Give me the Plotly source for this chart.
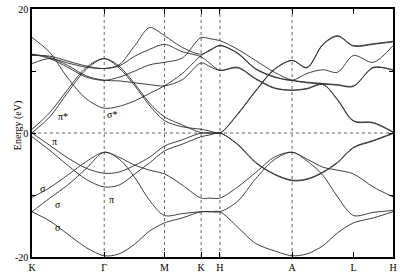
import plotly.graph_objects as go

# k-path positions of the high-symmetry points and labels
k_sym = [0, 73, 134, 171, 190, 263, 325, 365]
k_labels = ["K", "Γ", "M", "K", "H", "A", "L", "H"]
dotted_k = [73, 134, 171, 190, 263]

# common k grid on which band energies were read (eV)
k_grid = [0, 18, 36, 55, 73, 88, 104, 119, 134, 152, 171, 180, 190,
          208, 226, 245, 263, 278, 294, 309, 325, 345, 365]

# valence bands
v_pi1 = [0.0, -2.0, -4.0, -5.7, -6.5, -6.3, -5.2, -3.9, -2.1, -1.1, 0.0, 0.0, 0.0,
         -1.8, -4.7, -6.6, -7.6, -7.4, -6.3, -4.7, -2.3, -1.2, 0.0]
v_pi2 = [-0.6, -2.8, -5.2, -7.5, -8.7, -8.4, -6.6, -4.8, -2.9, -1.8, -0.6, -0.3, 0.0,
         -1.9, -4.8, -6.7, -7.7, -7.5, -6.4, -4.8, -2.4, -1.3, -0.1]
v_s1 = [-10.4, -8.8, -6.8, -4.6, -3.1, -3.9, -5.2, -6.0, -6.6, -8.4, -10.5, -10.5, -10.5,
        -8.7, -6.4, -3.9, -3.1, -4.2, -5.5, -6.0, -6.6, -8.7, -10.3]
v_s2 = [-12.7, -10.5, -8.4, -5.7, -3.1, -4.2, -7.2, -10.9, -13.3, -13.0, -12.7, -12.7, -12.7,
        -11.0, -7.4, -4.3, -3.1, -4.5, -6.8, -10.3, -13.3, -12.8, -12.5]
v_s3 = [-12.7, -14.2, -16.3, -18.5, -19.8, -19.5, -17.9, -15.8, -14.5, -13.7, -12.7, -12.7, -12.7,
        -15.2, -17.8, -19.0, -19.8, -19.5, -18.2, -16.1, -14.5, -13.7, -12.7]

# conduction bands
c1 = [0.05, 2.6, 6.5, 10.3, 12.0, 10.8, 7.9, 4.8, 2.6, 1.3, 0.05, 0.0, 0.0,
      3.0, 6.7, 10.2, 11.7, 10.5, 14.3, 15.7, 14.1, 14.4, 14.8]
c2 = [0.6, 3.3, 7.0, 10.6, 12.0, 10.5, 7.6, 4.4, 2.0, 1.0, 0.6, 0.3, 0.0,
      3.1, 6.8, 10.3, 11.7, 10.6, 14.2, 15.6, 14.0, 14.3, 14.7]
c3 = [12.7, 12.2, 10.9, 9.2, 8.5, 8.4, 8.1, 7.8, 7.6, 8.6, 11.3, 10.7, 10.1,
      10.6, 8.8, 7.3, 6.9, 7.2, 7.9, 5.3, 1.9, 1.6, 0.1]
c4 = [12.7, 12.0, 10.6, 9.0, 8.5, 9.0, 10.0, 11.0, 11.4, 12.1, 15.4, 15.2, 14.9,
      13.5, 11.7, 9.8, 8.5, 8.1, 7.9, 7.7, 7.5, 10.6, 10.1]
c5 = [12.5, 12.4, 11.6, 10.8, 10.4, 11.0, 14.1, 17.0, 15.7, 13.8, 12.7, 13.4, 14.1,
      12.8, 10.3, 9.0, 8.5, 8.2, 8.0, 7.8, 7.6, 10.5, 10.2]
c6 = [11.2, 12.0, 11.3, 10.6, 10.4, 10.8, 12.4, 13.5, 14.3, 13.1, 12.3, 11.2, 10.1,
      10.5, 8.7, 7.2, 6.9, 7.1, 7.8, 5.4, 2.0, 1.7, 0.2]
c7 = [15.4, 13.0, 8.9, 5.5, 4.0, 4.3, 5.2, 6.4, 7.6, 9.6, 12.5, 13.3, 14.1,
      12.9, 10.4, 9.1, 8.5, 9.6, 10.2, 9.8, 12.5, 11.4, 14.1]

bands = [v_pi1, v_pi2, v_s1, v_s2, v_s3, c1, c2, c3, c4, c5, c6, c7]

# band labels (text, k, energy)
lab_text = ["π*", "σ*", "π", "σ", "σ", "π", "σ"]
lab_k = [31, 81, 23, 11, 26, 80, 26]
lab_e = [2.7, 3.0, -1.3, -9.0, -11.5, -10.8, -15.3]

FONT = "Liberation Serif"

fig = go.Figure()
for b in bands:
    fig.add_trace(go.Scatter(
        x=k_grid, y=b, mode="lines",
        line=dict(color="#2a2a2a", width=0.9, shape="spline", smoothing=0.9),
        hoverinfo="skip", showlegend=False))

for kx in dotted_k:
    fig.add_shape(type="line", x0=kx, x1=kx, y0=-20, y1=20, xref="x", yref="y",
                  line=dict(color="#666", width=1, dash="dot"), layer="below")
fig.add_shape(type="line", x0=k_sym[0], x1=k_sym[-1], y0=0, y1=0, xref="x", yref="y",
              line=dict(color="#666", width=1, dash="dot"), layer="below")

for t, kx, e in zip(lab_text, lab_k, lab_e):
    fig.add_annotation(x=kx, y=e, text=t, showarrow=False,
                       font=dict(family=FONT, size=10, color="black"))

fig.add_annotation(x=-0.062, y=0.53, xref="paper", yref="paper", text="Energy (eV)",
                   textangle=-90, showarrow=False,
                   font=dict(family=FONT, size=10, color="black"))

fig.update_xaxes(range=[k_sym[0], k_sym[-1]], tickvals=k_sym, ticktext=k_labels,
                 ticks="inside", ticklen=5, tickwidth=1, tickcolor="black",
                 showline=True, linewidth=1.5, linecolor="black", mirror="ticks",
                 showgrid=False, zeroline=False,
                 tickfont=dict(family=FONT, size=10, color="black"))
fig.update_yaxes(range=[-20, 20], tickvals=[-20, -10, 0, 10, 20],
                 ticktext=["-20", "", "0", "", "20"],
                 ticks="inside", ticklen=4, tickwidth=1, tickcolor="black",
                 showline=True, linewidth=1.5, linecolor="black", mirror="ticks",
                 showgrid=False, zeroline=False,
                 tickfont=dict(family=FONT, size=10, color="black"))

fig.update_layout(width=400, height=276, margin=dict(l=32, r=3, t=6, b=18),
                  paper_bgcolor="white", plot_bgcolor="white")

fig.write_html("out.html")
